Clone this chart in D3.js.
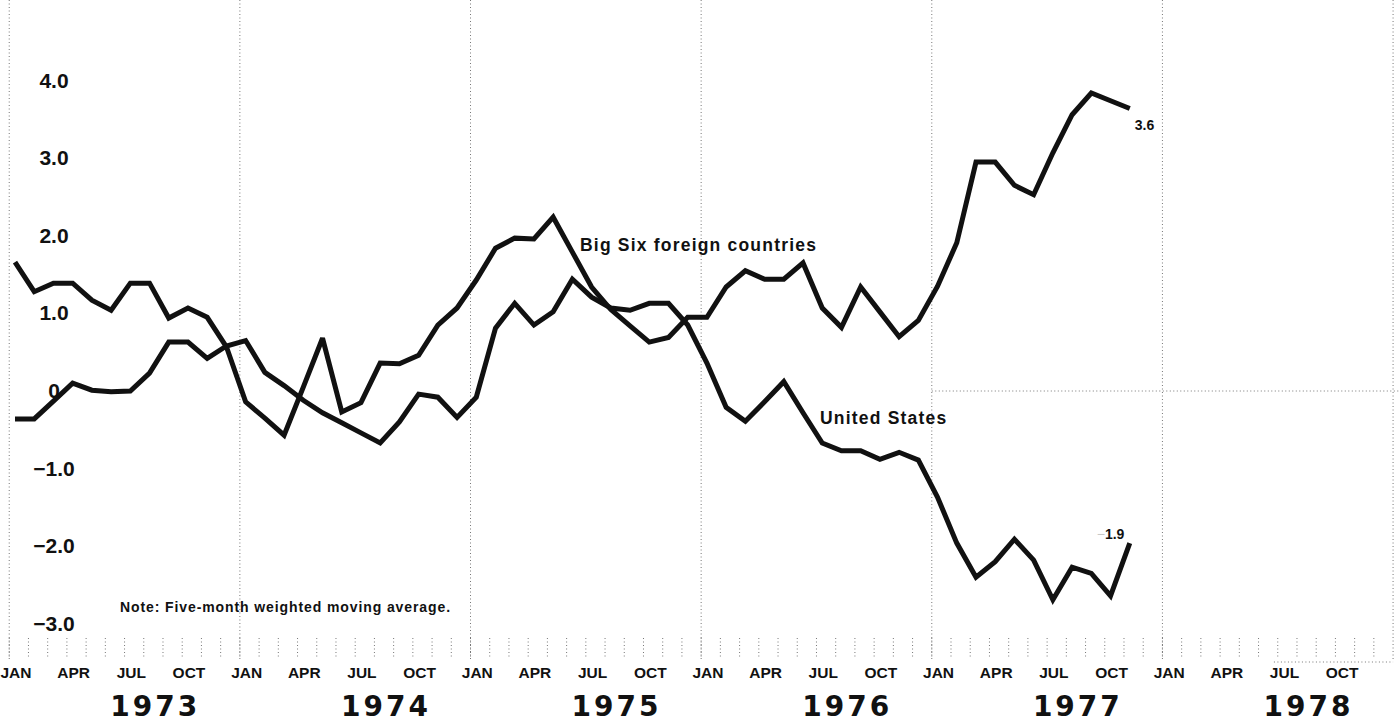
<!DOCTYPE html>
<html>
<head>
<meta charset="utf-8">
<script src="https://cdn.jsdelivr.net/npm/d3@7"></script>
<style>
  body { margin: 0; background: #fff; }
  svg { display: block; }
  .grid { stroke: #777; stroke-width: 1; stroke-dasharray: 1,2.5; fill: none; }
  .line { fill: none; stroke: #111; stroke-width: 5; stroke-linejoin: miter; stroke-miterlimit: 3; }
  .ylab { font-family: "Liberation Sans", Arial, sans-serif; font-weight: bold; font-size: 21px; fill: #111; }
  .mlab { font-family: "Liberation Sans Narrow", "Arial Narrow", "Liberation Sans", sans-serif; font-weight: bold; font-size: 15.5px; fill: #111; }
  .year { font-family: "DejaVu Sans", sans-serif; font-weight: bold; font-size: 28px; letter-spacing: 3px; fill: #111; }
  .lbl { font-family: "Liberation Sans", Arial, sans-serif; font-weight: bold; fill: #111; }
</style>
</head>
<body>
<div id="chart"></div>
<script>
const width = 1400, height = 723;

// months since Jan 1973
const yearLabels = ["1973", "1974", "1975", "1976", "1977", "1978"];
const monthTicks = ["JAN", "APR", "JUL", "OCT"];
const yTicks = [4, 3, 2, 1, 0, -1, -2, -3];

// Big Six foreign countries, Jan 1973 - Nov 1977
const bigSix = [1.66, 1.28, 1.39, 1.39, 1.17, 1.04, 1.39, 1.39, 0.94, 1.07, 0.95, 0.57,
                -0.14, -0.35, -0.57, 0.05, 0.68, -0.27, -0.15, 0.36, 0.35, 0.46, 0.85, 1.07,
                1.43, 1.84, 1.97, 1.96, 2.24, 1.79, 1.34, 1.05, 0.84, 0.63, 0.69, 0.95,
                0.95, 1.34, 1.55, 1.44, 1.44, 1.65, 1.07, 0.82, 1.34, 1.02, 0.70, 0.91,
                1.35, 1.91, 2.95, 2.95, 2.65, 2.53, 3.07, 3.56, 3.84, 3.74, 3.64];

// United States, Jan 1973 - Nov 1977
const unitedStates = [-0.36, -0.36, -0.13, 0.10, 0.01, -0.01, 0.00, 0.23, 0.63, 0.63, 0.42, 0.58,
                      0.65, 0.24, 0.07, -0.12, -0.28, -0.41, -0.54, -0.67, -0.40, -0.04, -0.08, -0.34,
                      -0.08, 0.81, 1.13, 0.85, 1.02, 1.44, 1.21, 1.07, 1.04, 1.13, 1.13, 0.85,
                      0.36, -0.21, -0.39, -0.14, 0.12, -0.28, -0.67, -0.77, -0.77, -0.88, -0.79, -0.89,
                      -1.37, -1.96, -2.40, -2.20, -1.91, -2.18, -2.69, -2.27, -2.35, -2.64, -1.96];

const x = d3.scaleLinear().domain([0, 71]).range([15, 15 + 71 * 19.22]);
const y = d3.scaleLinear().domain([0, 1]).range([391, 313.4]);

const svg = d3.select("#chart").append("svg")
    .attr("width", width)
    .attr("height", height);

svg.append("rect").attr("width", width).attr("height", height).attr("fill", "#fff");

// year gridlines + frame edges
d3.range(0, 7).forEach(k => {
  svg.append("line").attr("class", "grid")
    .attr("x1", x(12 * k - 0.3)).attr("x2", x(12 * k - 0.3))
    .attr("y1", 0).attr("y2", 660);
});

// zero line, only shows on the right part
svg.append("line").attr("class", "grid")
  .attr("x1", x(47.7)).attr("x2", width)
  .attr("y1", y(0)).attr("y2", y(0));

svg.append("line").attr("class", "grid")
  .attr("x1", x(65.5)).attr("x2", x(71.7))
  .attr("y1", 662).attr("y2", 662);

// monthly ticks
svg.append("g").selectAll("line")
  .data(d3.range(0, 72))
  .join("line")
  .attr("class", "grid")
  .attr("x1", d => x(d - 0.3)).attr("x2", d => x(d - 0.3))
  .attr("y1", 638).attr("y2", 657);

// y labels
svg.append("g").selectAll("text")
  .data(yTicks)
  .join("text")
  .attr("class", "ylab")
  .attr("x", 54)
  .attr("y", d => y(d) + 7)
  .attr("text-anchor", "middle")
  .text(d => d === 0 ? "0" : (d < 0 ? "\u2212" : "") + d3.format(".1f")(Math.abs(d)));

// month labels
svg.append("g").selectAll("text")
  .data(d3.range(0, 72, 3))
  .join("text")
  .attr("class", "mlab")
  .attr("x", d => x(d) + 1)
  .attr("y", 678)
  .attr("text-anchor", "middle")
  .text(d => monthTicks[(d % 12) / 3]);

// year labels
svg.append("g").selectAll("text")
  .data(yearLabels)
  .join("text")
  .attr("class", "year")
  .attr("x", (d, i) => x(12 * i + 7.3))
  .attr("y", 716)
  .attr("text-anchor", "middle")
  .text(d => d);

const line = d3.line()
  .x((d, i) => x(i))
  .y(d => y(d));

svg.append("path").datum(unitedStates).attr("class", "line").attr("d", line);
svg.append("path").datum(bigSix).attr("class", "line").attr("d", line);

// series labels
svg.append("text").attr("class", "lbl").attr("font-size", 17.5).attr("letter-spacing", 1.2)
  .attr("x", 580).attr("y", 251).text("Big Six foreign countries");
svg.append("text").attr("class", "lbl").attr("font-size", 17.5).attr("letter-spacing", 1.2)
  .attr("x", 820).attr("y", 424).text("United States");

// end values
svg.append("text").attr("class", "lbl").attr("font-size", 14)
  .attr("x", x(58) + 5).attr("y", y(bigSix[58]) + 21).text("3.6");
const usEnd = svg.append("text").attr("class", "lbl").attr("font-size", 14)
  .attr("x", x(58) - 33).attr("y", y(unitedStates[58]) - 4);
usEnd.append("tspan").attr("fill", "#c8c8c8").attr("font-weight", "normal").text("\u2212");
usEnd.append("tspan").text("1.9");

// note
svg.append("text").attr("class", "lbl").attr("font-size", 14).attr("letter-spacing", 0.9)
  .attr("x", 120).attr("y", 612).text("Note: Five-month weighted moving average.");
</script>
</body>
</html>
